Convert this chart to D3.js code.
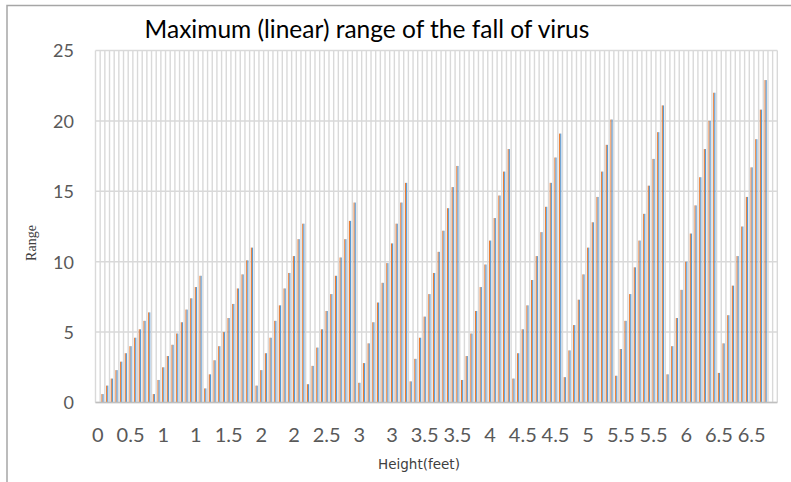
<!DOCTYPE html>
<html>
<head>
<meta charset="utf-8">
<script src="https://cdn.jsdelivr.net/npm/d3@7"></script>
<style>
  body { margin: 0; background: #fff; }
  svg { display: block; }
  .grid line { stroke: #d9d9d9; }
  .asse text { fill: #595959; font-family: Lato, "Open Sans", sans-serif; font-size: 18px; }
  .asseX text { font-size: 20px; }
  .asse .domain { display: none; }
</style>
</head>
<body>
<script>
// etichette mostrate sull'asse x (una ogni 7 categorie)
const heightLabels = ["0", "0.5", "1", "1", "1.5", "2", "2", "2.5", "3", "3", "3.5",
  "3.5", "4", "4.5", "4.5", "5", "5.5", "5.5", "6", "6.5", "6.5"];

// valori serie arancione (146 categorie, la prima e le ultime due vuote)
const rangeOrange = [null,
  0.6, 1.2, 1.7, 2.3, 2.9, 3.5, 4.0, 4.6, 5.2, 5.8, 6.4,
  0.6, 1.6, 2.5, 3.3, 4.1, 4.9, 5.7, 6.6, 7.4, 8.2, 9.0,
  1.0, 2.0, 3.0, 4.0, 5.0, 6.0, 7.0, 8.1, 9.1, 10.1, 11.0,
  1.2, 2.3, 3.5, 4.6, 5.8, 6.9, 8.1, 9.2, 10.4, 11.6, 12.7,
  1.3, 2.6, 3.9, 5.2, 6.5, 7.7, 9.0, 10.3, 11.6, 12.9, 14.2,
  1.4, 2.8, 4.2, 5.7, 7.1, 8.5, 9.9, 11.3, 12.7, 14.2, 15.6,
  1.5, 3.1, 4.6, 6.1, 7.7, 9.2, 10.7, 12.2, 13.8, 15.3, 16.8,
  1.6, 3.3, 4.9, 6.5, 8.2, 9.8, 11.5, 13.1, 14.7, 16.4, 18.0,
  1.7, 3.5, 5.2, 6.9, 8.7, 10.4, 12.1, 13.9, 15.6, 17.4, 19.1,
  1.8, 3.7, 5.5, 7.3, 9.1, 11.0, 12.8, 14.6, 16.4, 18.3, 20.1,
  1.9, 3.8, 5.8, 7.7, 9.6, 11.5, 13.4, 15.4, 17.3, 19.2, 21.1,
  2.0, 4.0, 6.0, 8.0, 10.0, 12.0, 14.0, 16.0, 18.0, 20.0, 22.0,
  2.1, 4.2, 6.2, 8.3, 10.4, 12.5, 14.6, 16.7, 18.7, 20.8, 22.9,
  null, null];

// valori serie blu (quasi identici all'arancione)
const rangeBlue = [null,
  0.6, 1.2, 1.7, 2.3, 2.9, 3.5, 4.0, 4.6, 5.2, 5.8, 6.4,
  0.6, 1.6, 2.5, 3.3, 4.1, 4.9, 5.7, 6.6, 7.4, 8.2, 9.0,
  1.0, 2.0, 3.0, 4.0, 5.0, 6.0, 7.0, 8.1, 9.1, 10.1, 11.0,
  1.2, 2.3, 3.5, 4.6, 5.8, 6.9, 8.1, 9.2, 10.4, 11.6, 12.7,
  1.3, 2.6, 3.9, 5.2, 6.5, 7.7, 9.0, 10.3, 11.6, 12.9, 14.2,
  1.4, 2.8, 4.2, 5.7, 7.1, 8.5, 9.9, 11.3, 12.7, 14.2, 15.6,
  1.5, 3.1, 4.6, 6.1, 7.7, 9.2, 10.7, 12.2, 13.8, 15.3, 16.8,
  1.6, 3.3, 4.9, 6.5, 8.2, 9.8, 11.5, 13.1, 14.7, 16.4, 18.0,
  1.7, 3.5, 5.2, 6.9, 8.7, 10.4, 12.1, 13.9, 15.6, 17.4, 19.1,
  1.8, 3.7, 5.5, 7.3, 9.1, 11.0, 12.8, 14.6, 16.4, 18.3, 20.1,
  1.9, 3.8, 5.8, 7.7, 9.6, 11.5, 13.4, 15.4, 17.3, 19.2, 21.1,
  2.0, 4.0, 6.0, 8.0, 10.0, 12.0, 14.0, 16.0, 18.0, 20.0, 22.0,
  2.1, 4.2, 6.2, 8.3, 10.4, 12.5, 14.6, 16.7, 18.7, 20.8, 22.9,
  null, null];

const yTicks = [0, 5, 10, 15, 20, 25];

const W = 791, H = 482;
const area = { sx: 95.5, dx: 777.3, alto: 50.5, basso: 402.5 };

const svg = d3.select("body").append("svg")
  .attr("width", W)
  .attr("height", H);

// bordo del grafico
svg.append("path")
  .attr("d", `M7,${H} L7,5.5 L${W},5.5`)
  .attr("fill", "none")
  .attr("stroke", "#a6a6a6")
  .attr("stroke-width", 1.5);

const categorie = d3.range(rangeOrange.length);

const scalaX = d3.scaleBand()
  .domain(categorie)
  .range([area.sx, area.dx])
  .padding(0);

const scalaY = d3.scaleLinear()
  .domain([0, 25])
  .range([area.basso, area.alto]);

// griglia verticale (confini delle categorie)
const bw = scalaX.bandwidth();
svg.append("g")
  .attr("class", "grid")
  .selectAll("line")
  .data(d3.range(categorie.length + 1))
  .join("line")
  .attr("x1", d => area.sx + d * bw)
  .attr("x2", d => area.sx + d * bw)
  .attr("y1", area.alto)
  .attr("y2", area.basso)
  .attr("stroke-width", 1.4);

// griglia orizzontale
svg.append("g")
  .attr("class", "grid")
  .selectAll("line")
  .data(yTicks)
  .join("line")
  .attr("x1", area.sx)
  .attr("x2", area.dx)
  .attr("y1", d => scalaY(d))
  .attr("y2", d => scalaY(d))
  .attr("stroke-width", 1.5);

// barre: gap 219% come excel
const barW = bw / (2 + 2.19);
const offset = (bw - 2 * barW) / 2;

const serie = [
  { valori: rangeOrange, colore: "#ed7d31", pos: 0 },
  { valori: rangeBlue, colore: "#5b9bd5", pos: 1 }
];

serie.forEach(function (s) {
  svg.append("g")
    .selectAll("rect")
    .data(s.valori.map((v, i) => ({ i: i, v: v })).filter(d => d.v !== null))
    .join("rect")
    .attr("x", d => scalaX(d.i) + offset + s.pos * barW)
    .attr("width", barW)
    .attr("y", d => scalaY(d.v))
    .attr("height", d => scalaY(0) - scalaY(d.v))
    .attr("fill", s.colore);
});

// linea base
svg.append("line")
  .attr("x1", area.sx)
  .attr("x2", area.dx)
  .attr("y1", scalaY(0))
  .attr("y2", scalaY(0))
  .attr("stroke", "#bfbfbf")
  .attr("stroke-width", 1.5);

// asse y
svg.append("g")
  .attr("class", "asse")
  .attr("transform", `translate(74,0)`)
  .call(d3.axisLeft(scalaY).tickValues(yTicks).tickSize(0).tickPadding(0))
  .selectAll("text")
  .attr("dy", "0.35em");

// asse x
svg.append("g")
  .attr("class", "asse asseX")
  .attr("transform", `translate(0,${area.basso})`)
  .call(d3.axisBottom(scalaX)
    .tickValues(categorie.filter(i => i % 7 === 0 && i / 7 < heightLabels.length))
    .tickFormat(i => heightLabels[i / 7])
    .tickSize(0)
    .tickPadding(25));

// titolo
svg.append("text")
  .attr("x", 367)
  .attr("y", 38)
  .attr("text-anchor", "middle")
  .attr("font-family", "Lato, 'Open Sans', sans-serif")
  .attr("font-size", 24.5)
  .attr("fill", "#000")
  .text("Maximum (linear) range of the fall of virus");

// titolo asse y
svg.append("text")
  .attr("transform", "translate(36,243) rotate(-90)")
  .attr("text-anchor", "middle")
  .attr("font-family", "'Liberation Serif', serif")
  .attr("font-size", 14)
  .attr("fill", "#404040")
  .text("Range");

// titolo asse x
svg.append("text")
  .attr("x", 419)
  .attr("y", 469)
  .attr("text-anchor", "middle")
  .attr("font-family", "'DejaVu Sans', sans-serif")
  .attr("font-size", 13.5)
  .attr("fill", "#404040")
  .text("Height(feet)");
</script>
</body>
</html>
